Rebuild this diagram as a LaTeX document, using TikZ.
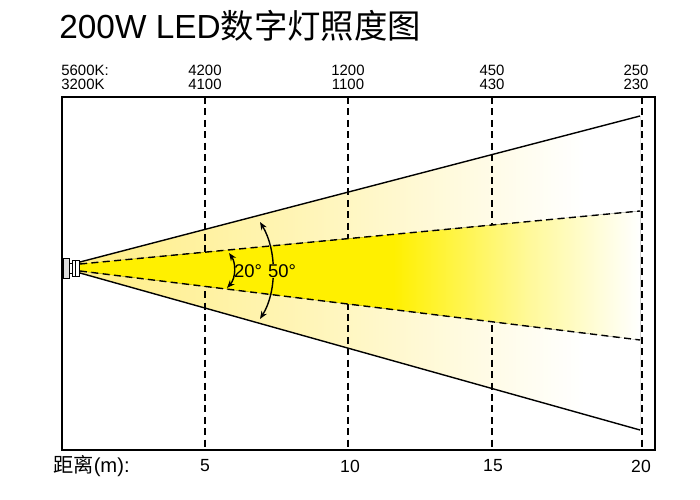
\documentclass[tikz,border=0pt]{standalone}
\usepackage{fontspec}
\setmainfont{Liberation Sans}
\newfontfamily\cjk{Noto Sans CJK SC}
\usetikzlibrary{arrows.meta}
\definecolor{beamyellow}{RGB}{255,240,0}
\definecolor{paleyellow}{RGB}{255,238,135}
\pgfdeclarehorizontalshading{innerbeam}{100bp}{color(0bp)=(beamyellow); color(53bp)=(beamyellow); color(65bp)=(beamyellow!40!white); color(75bp)=(white); color(100bp)=(white)}
\pgfdeclarehorizontalshading{outerbeam}{100bp}{color(0bp)=(paleyellow); color(25bp)=(paleyellow); color(45bp)=(paleyellow!60!white); color(70bp)=(white); color(100bp)=(white)}
\tikzset{
  gridline/.style={dash pattern=on 4pt off 2.5pt, line width=0.8pt},
  edgeline/.style={line width=0.8pt},
  lux/.style={font=\fontsize{8.5}{9}\selectfont, inner sep=0pt},
  meter/.style={font=\fontsize{10}{11}\selectfont, inner sep=0pt},
  angle/.style={font=\fontsize{10.5}{12}\selectfont, inner sep=0.5pt}
}

\begin{document}
\begin{tikzpicture}[x=0.02cm, y=-0.02cm, >={Stealth[length=4.5pt,width=3.5pt]}]
	\useasboundingbox (0,0) rectangle (700,500);

	\node[anchor=base west, inner sep=0pt, font=\fontsize{19}{21}\selectfont] (title) at (59,39) {200W LED{\cjk 数字灯照度图}};

	% beam
	\fill[shading=outerbeam] (80,262) -- (640,116) -- (640,430) -- (80,273) -- cycle;
	\foreach \x in {205,348,492,642}
		\draw[gridline] (\x,97) -- (\x,450);
	\fill[shading=innerbeam] (80,264) -- (640,211) -- (640,340) -- (80,271) -- cycle;
	\draw[gridline] (80,264) -- (640,211);
	\draw[gridline] (80,271) -- (640,340);
	\draw[edgeline] (80,262) -- (640,116);
	\draw[edgeline] (80,273) -- (640,430);

	% frame
	\draw[line width=0.9pt] (62,97) rectangle (655,450);

	% lamp
	\draw[line width=0.5pt, fill=gray!25] (63,258) rectangle (69,278);
	\draw[line width=0.5pt, fill=white] (69,263) rectangle (72,273);
	\draw[line width=0.5pt, fill=white] (72,260) rectangle (79,276);
	\draw[line width=0.5pt] (75,260) -- (75,276);

	% angles
	\draw[<->, line width=0.8pt] (229,253) .. controls (236,263) and (236,278) .. (227,288);
	\draw[<->, line width=0.8pt] (260,222) .. controls (277,250) and (277,292) .. (260,319);
	\node[angle] (narrow) at (248,271) {20°};
	\node[angle, fill=beamyellow] (wide) at (282,271) {50°};

	% lux values
	\node[lux, anchor=west] (cold) at (61,70) {5600K:};
	\node[lux, anchor=west] (warm) at (61,84) {3200K};
	\foreach \x/\a/\b in {205/4200/4100, 348/1200/1100, 492/450/430, 636/250/230} {
		\node[lux] at (\x,70) {\a};
		\node[lux] at (\x,84) {\b};
	}

	% distances
	\node[meter, anchor=west, font=\fontsize{11.5}{12}\selectfont] (dist) at (53,466) {{\cjk 距离}(m):};
	\foreach \x/\d in {205/5, 350/10, 493/15, 641/20}
		\node[meter] at (\x,466) {\d};
\end{tikzpicture}
\end{document}
